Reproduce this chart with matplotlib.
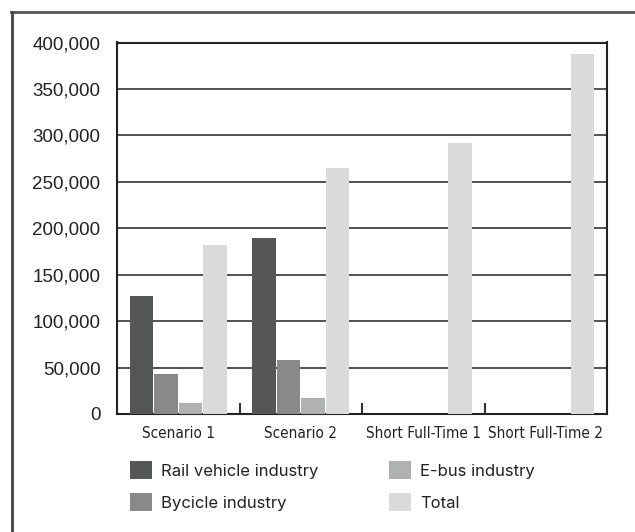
import numpy as np
import matplotlib
matplotlib.use("Agg")
import matplotlib.pyplot as plt
from matplotlib.lines import Line2D
from matplotlib.patches import Patch

categories = ["Scenario 1", "Scenario 2", "Short Full-Time 1", "Short Full-Time 2"]
series_names = ["Rail vehicle industry", "Bycicle industry", "E-bus industry", "Total"]
rail = [127000, 190000, 0, 0]
bicycle = [43000, 58000, 0, 0]
ebus = [12000, 17000, 0, 0]
total = [182000, 265000, 292000, 388000]
colors = ["#555756", "#888988", "#b0b2b1", "#d9dad9"]

fig = plt.figure(figsize=(6.35, 5.32), dpi=100)
ax = fig.add_axes([117 / 635, 1 - 414 / 532, 490 / 635, 371.5 / 532])

x = np.arange(len(categories))
w = 0.19
step = 0.2
for i, vals in enumerate([rail, bicycle, ebus, total]):
    ax.bar(x + (i - 1.5) * step, vals, width=w, color=colors[i], zorder=3)

ax.set_xlim(-0.5, 3.5)
ax.set_ylim(0, 400000)
ax.set_yticks(np.arange(0, 400001, 50000))
ax.set_yticklabels([f"{v:,}" for v in range(0, 400001, 50000)],
                   family=["Liberation Sans", "DejaVu Sans"], fontsize=13.5, color="#222222")
ax.tick_params(axis="y", length=0, pad=12)
ax.grid(axis="y", color="#333333", linewidth=1.2, zorder=1)

ax.set_xticks(x)
ax.set_xticklabels(categories, family="DejaVu Sans", stretch="condensed",
                   fontsize=11, color="#222222")
ax.tick_params(axis="x", which="major", length=0, pad=9)
ax.set_xticks([0.5, 1.5, 2.5], minor=True)
ax.tick_params(axis="x", which="minor", direction="in", length=8, width=1.5, color="#333333")

for s in ax.spines.values():
    s.set_color("#222222")
    s.set_linewidth(1.5)

# outer frame (top and left edges only reach into the canvas)
fig.add_artist(Line2D([11 / 635, 1], [1 - 11.5 / 532] * 2, color="#555555", linewidth=2))
fig.add_artist(Line2D([11.5 / 635] * 2, [0, 1 - 11.5 / 532], color="#444444", linewidth=2))

handles = [Patch(facecolor=c, edgecolor="none") for c in colors]
leg_font = {"family": ["Inter", "DejaVu Sans"], "size": 12}
for col, xpos in enumerate([123 / 635, 382 / 635]):
    leg = fig.legend(handles[col * 2:col * 2 + 2], series_names[col * 2:col * 2 + 2],
                     loc="upper left", bbox_to_anchor=(xpos, 1 - 454 / 532),
                     frameon=False, prop=leg_font, handlelength=1.35, handleheight=1.35,
                     handletextpad=0.55, labelspacing=0.8, borderaxespad=0)
    for t in leg.get_texts():
        t.set_color("#222222")

fig.savefig("out.png", dpi=100)
